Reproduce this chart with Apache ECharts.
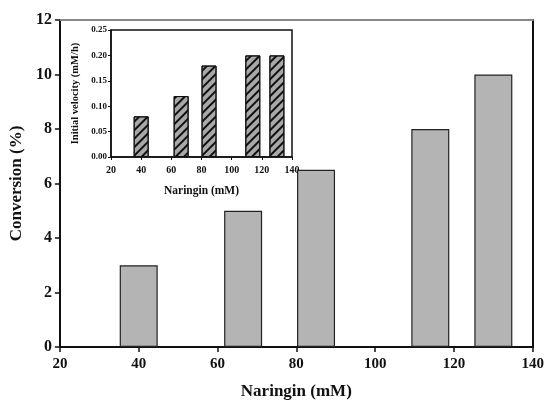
<!DOCTYPE html>
<html>
<head>
<meta charset="utf-8">
<script src="https://cdn.jsdelivr.net/npm/echarts@6/dist/echarts.min.js"></script>
<style>html,body{margin:0;padding:0;background:#fff;}#c{width:547px;height:405px;}</style>
</head>
<body>
<div id="c"></div>
<script>
const mainX = [40, 66.5, 85, 114, 130];
const mainConversion = [3, 5, 6.5, 8, 10];
const insetX = [40, 66.5, 85, 114, 130];
const insetVelocity = [0.08, 0.12, 0.18, 0.20, 0.20];
const mainYTicks = [0, 2, 4, 6, 8, 10, 12];
const xTicks = [20, 40, 60, 80, 100, 120, 140];

const F = '"Liberation Serif", "Times New Roman", serif';
const chart = echarts.init(document.getElementById('c'));
const lbl = (s) => ({ fontFamily: F, fontWeight: 'bold', fontSize: s, color: '#111' });

chart.setOption({
  animation: false,
  backgroundColor: '#fff',
  grid: [
    { left: 57, right: 11, top: 20, bottom: 50 },
    { left: 111, right: 255, top: 30, bottom: 248, show: true, backgroundColor: '#fff', borderColor: '#111', borderWidth: 1.5 }
  ],
  xAxis: [
    { gridIndex: 0, type: 'value', min: 20, max: 140, interval: 20,
      axisLine: { onZero: false, lineStyle: { color: '#111', width: 2 } },
      axisTick: { show: true, inside: false, length: 5, lineStyle: { color: '#111', width: 1.5 } },
      axisLabel: Object.assign(lbl(15), { margin: 10 }),
      splitLine: { show: false },
      name: 'Naringin (mM)', nameLocation: 'middle', nameGap: 36, nameTextStyle: lbl(17) },
    { gridIndex: 0, type: 'value', position: 'top', min: 20, max: 140,
      axisLine: { show: true, onZero: false, lineStyle: { color: '#888', width: 2 } },
      axisTick: { show: false }, axisLabel: { show: false }, splitLine: { show: false } },
    { gridIndex: 1, type: 'value', min: 20, max: 140, interval: 20,
      axisLine: { onZero: false, lineStyle: { color: '#111', width: 1.5 } },
      axisTick: { show: true, inside: false, length: 3, lineStyle: { color: '#111' } },
      axisLabel: Object.assign(lbl(10), { margin: 8 }),
      splitLine: { show: false },
      name: 'Naringin (mM)', nameLocation: 'middle', nameGap: 28, nameTextStyle: lbl(11.5) }
  ],
  yAxis: [
    { gridIndex: 0, type: 'value', min: 0, max: 12, interval: 2,
      axisLine: { show: true, onZero: false, lineStyle: { color: '#111', width: 2 } },
      axisTick: { show: true, inside: false, length: 5, lineStyle: { color: '#111', width: 1.5 } },
      axisLabel: Object.assign(lbl(16), { margin: 8 }),
      splitLine: { show: false },
      name: 'Conversion (%)', nameLocation: 'middle', nameGap: 29, nameRotate: 90, nameTextStyle: lbl(17) },
    { gridIndex: 0, type: 'value', position: 'right', min: 0, max: 12,
      axisLine: { show: true, onZero: false, lineStyle: { color: '#111', width: 2 } },
      axisTick: { show: false }, axisLabel: { show: false }, splitLine: { show: false } },
    { gridIndex: 1, type: 'value', min: 0, max: 0.25, interval: 0.05,
      axisLine: { show: true, onZero: false, lineStyle: { color: '#111', width: 1.5 } },
      axisTick: { show: true, inside: false, length: 3, lineStyle: { color: '#111' } },
      axisLabel: Object.assign(lbl(9), { margin: 4, formatter: (v) => v.toFixed(2) }),
      splitLine: { show: false },
      name: 'Initial velocity (mM/h)', nameLocation: 'middle', nameGap: 30, nameRotate: 90, nameTextStyle: lbl(10.5) }
  ],
  series: [
    { type: 'bar', xAxisIndex: 0, yAxisIndex: 0, barWidth: 38,
      data: mainX.map((x, i) => [x, mainConversion[i]]),
      itemStyle: { color: '#b4b4b4', borderColor: '#222', borderWidth: 1.2 } },
    { type: 'bar', xAxisIndex: 2, yAxisIndex: 2, barWidth: 15,
      data: insetX.map((x, i) => [x, insetVelocity[i]]),
      itemStyle: { color: '#a8a8a8', borderColor: '#111', borderWidth: 1,
        decal: { symbol: 'rect', symbolSize: 1, color: '#111', dashArrayX: [1, 0], dashArrayY: [1.5, 4], rotation: -Math.PI / 4 } } }
  ]
});
</script>
</body>
</html>
